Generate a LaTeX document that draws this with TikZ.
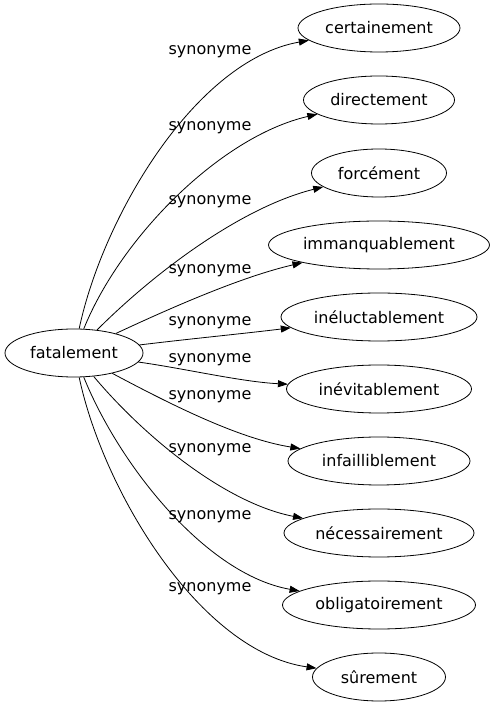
\documentclass[tikz,border=0pt]{standalone}
\usepackage{fontspec}
\setmainfont{DejaVu Sans}
\usetikzlibrary{shapes.geometric,arrows.meta}

\begin{document}
\begin{tikzpicture}[%%
  x=1pt,y=1pt,
  wordStyle/.style={draw,ellipse,inner sep=0pt,minimum height=48pt,
    line width=0.8pt,font=\fontsize{16}{19}\selectfont},
  linkStyle/.style={-{Triangle[length=10pt,width=7pt]},line width=0.8pt},
  labelStyle/.style={font=\fontsize{16}{19}\selectfont,inner sep=0pt}%%
]
%%
%%
\pgfmathsetmacro{\xword}{379}  %% Centre of the right column.
\pgfmathsetmacro{\xlabel}{210} %% Centre of the edge labels.
\useasboundingbox (0,0) rectangle (495,707);
%%
%%
%% The head word.
\node[wordStyle,minimum width=138pt] (fatal) at (74,354) {fatalement};
%%
%% Its synonyms, one link each.
\foreach \name/\word/\ypos/\wid/\ylab/\outAngle/\inAngle in {%%
  cert/certainement/679/162/655/78/190,
  dir/directement/607/151/579/68/193,
  forc/forcément/534/135/505/45/194,
  imm/immanquablement/462/221/436/25/193,
  inel/inéluctablement/390/196/384/7/187,
  inev/inévitablement/318/185/347/-8/177,
  infail/infailliblement/246/182/310/-28/171,
  nec/nécessairement/174/190/257/-50/169,
  oblig/obligatoirement/102/193/190/-68/170,
  sur/sûrement/30/133/118/-78/172}
{
  \node[wordStyle,minimum width=\wid pt] (\name) at (\xword,\ypos) {\word};
  \node[labelStyle] (lab-\name) at (\xlabel,\ylab) {synonyme};
  \draw[linkStyle] (fatal) to[out=\outAngle,in=\inAngle,looseness=0.8] (\name);
}
\end{tikzpicture}
\end{document}
